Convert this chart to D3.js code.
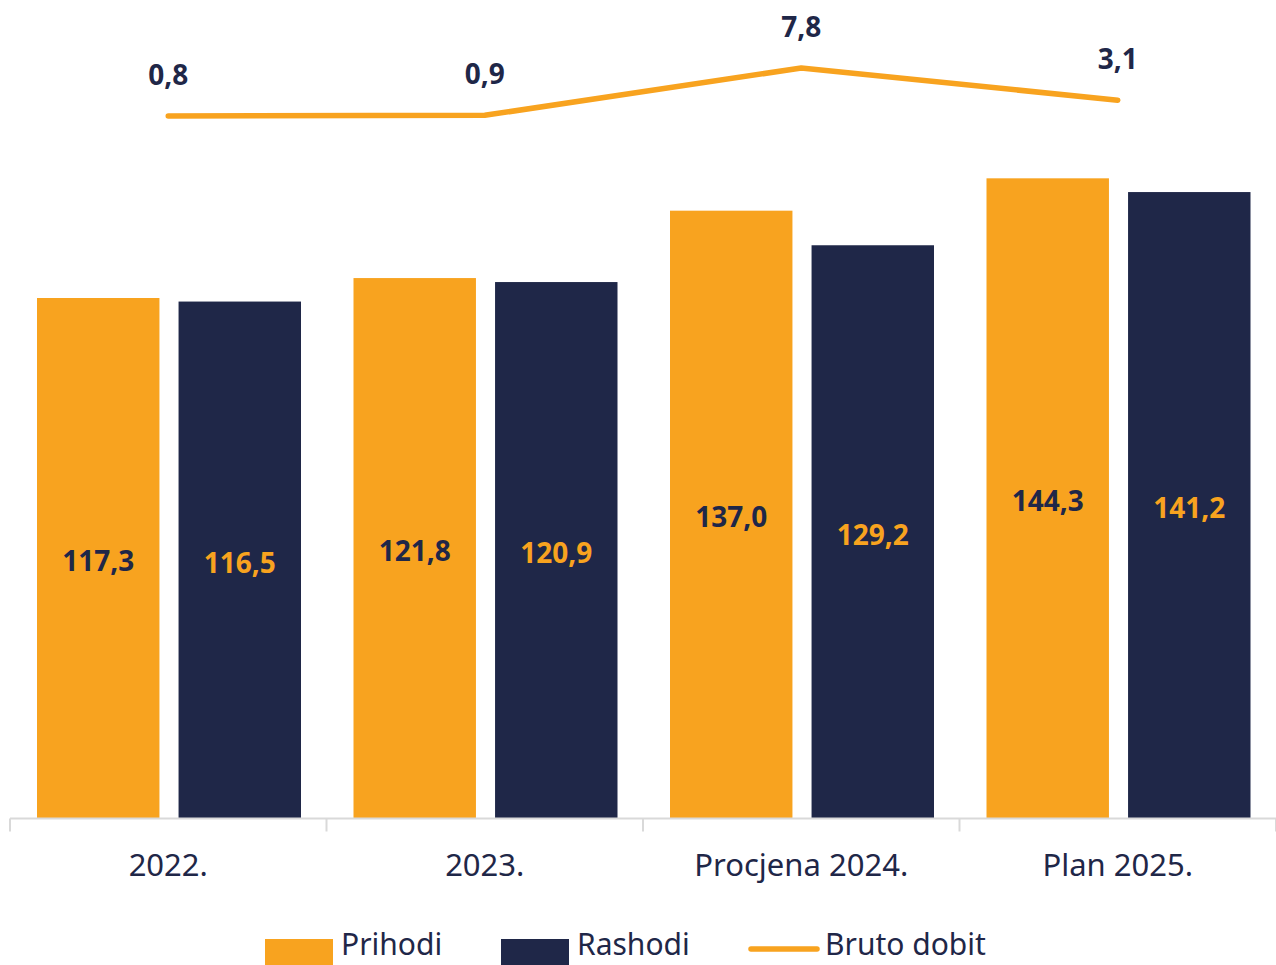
<!DOCTYPE html>
<html>
<head>
<meta charset="utf-8">
<script src="https://cdn.jsdelivr.net/npm/d3@7"></script>
<style>
  body { margin: 0; background: #fff; }
  #chart { width: 1276px; height: 965px; }
  text { font-family: "Noto Sans", sans-serif; }
</style>
</head>
<body>
<div id="chart"></div>
<script>
const categories = ['2022.', '2023.', 'Procjena 2024.', 'Plan 2025.'];
const seriesNames = ['Prihodi', 'Rashodi'];
const prihodi = [117.3, 121.8, 137.0, 144.3];
const rashodi = [116.5, 120.9, 129.2, 141.2];
const brutoDobit = [0.8, 0.9, 7.8, 3.1];

const orange = '#F8A31F';
const navy = '#1F2748';

const fmt = v => d3.format('.1f')(v).replace('.', ',');

function createChart() {
    const container = d3.select('#chart');
    container.html('');

    const width = 1276, height = 965;
    const svg = container.append('svg')
        .attr('width', width)
        .attr('height', height);

    const baseline = 818;

    const x0 = d3.scaleBand()
        .domain(categories)
        .range([10, 1276])
        .padding(0);

    const x1 = d3.scaleBand()
        .domain(seriesNames)
        .range([27, 291])
        .paddingInner(0.135)
        .paddingOuter(0);

    const y = d3.scaleLinear()
        .domain([0, 160])
        .range([baseline, baseline - 160 * 4.433]);

    const y2 = d3.scaleLinear()
        .domain([0, 8])
        .range([121.5, 121.5 - 8 * 6.857]);

    const data = categories.map((c, i) => ({
        cat: c,
        values: [
            {key: 'Prihodi', value: prihodi[i]},
            {key: 'Rashodi', value: rashodi[i]}
        ]
    }));

    const groups = svg.selectAll('.group')
        .data(data)
        .enter()
        .append('g')
        .attr('class', 'group')
        .attr('transform', d => `translate(${x0(d.cat)},0)`);

    groups.selectAll('rect')
        .data(d => d.values)
        .enter()
        .append('rect')
        .attr('x', d => x1(d.key))
        .attr('y', d => y(d.value))
        .attr('width', x1.bandwidth())
        .attr('height', d => y(0) - y(d.value))
        .attr('fill', d => d.key === 'Prihodi' ? orange : navy);

    groups.selectAll('.bar-label')
        .data(d => d.values)
        .enter()
        .append('text')
        .attr('class', 'bar-label')
        .attr('x', d => x1(d.key) + x1.bandwidth() / 2)
        .attr('y', d => (y(d.value) + y(0)) / 2)
        .attr('dy', '0.47em')
        .attr('text-anchor', 'middle')
        .attr('font-size', 28)
        .attr('font-weight', 'bold')
        .attr('fill', d => d.key === 'Prihodi' ? navy : orange)
        .text(d => fmt(d.value));

    // x axis
    const axis = svg.append('g')
        .attr('transform', `translate(0,${baseline + 0.5})`)
        .call(d3.axisBottom(x0).tickSize(0).tickPadding(0));
    axis.select('.domain').remove();
    axis.selectAll('.tick text').remove();

    axis.append('line')
        .attr('x1', 10).attr('x2', 1276)
        .attr('y1', 0).attr('y2', 0)
        .attr('stroke', '#d9d9d9')
        .attr('stroke-width', 2);

    const bounds = categories.map(c => x0(c)).concat([x0.range()[1]]);
    axis.selectAll('.sep')
        .data(bounds)
        .enter()
        .append('line')
        .attr('x1', d => d).attr('x2', d => d)
        .attr('y1', 0).attr('y2', 13)
        .attr('stroke', '#d9d9d9')
        .attr('stroke-width', 2);

    svg.selectAll('.cat-label')
        .data(categories)
        .enter()
        .append('text')
        .attr('class', 'cat-label')
        .attr('x', d => x0(d) + x0.bandwidth() / 2)
        .attr('y', 876)
        .attr('text-anchor', 'middle')
        .attr('font-size', 31)
        .attr('fill', navy)
        .text(d => d);

    // line
    const line = d3.line()
        .x((d, i) => x0(categories[i]) + x0.bandwidth() / 2)
        .y(d => y2(d));

    svg.append('path')
        .datum(brutoDobit)
        .attr('d', line)
        .attr('fill', 'none')
        .attr('stroke', orange)
        .attr('stroke-width', 5.5)
        .attr('stroke-linecap', 'round')
        .attr('stroke-linejoin', 'round');

    svg.selectAll('.line-label')
        .data(brutoDobit)
        .enter()
        .append('text')
        .attr('class', 'line-label')
        .attr('x', (d, i) => x0(categories[i]) + x0.bandwidth() / 2)
        .attr('y', d => y2(d) - 31)
        .attr('text-anchor', 'middle')
        .attr('font-size', 28)
        .attr('font-weight', 'bold')
        .attr('fill', navy)
        .text(d => fmt(d));

    // legend
    const legend = svg.append('g').attr('class', 'legend');
    const items = [
        {label: 'Prihodi', type: 'rect', color: orange, x: 265},
        {label: 'Rashodi', type: 'rect', color: navy, x: 501},
        {label: 'Bruto dobit', type: 'line', color: orange, x: 749}
    ];
    items.forEach(it => {
        if (it.type === 'rect') {
            legend.append('rect')
                .attr('x', it.x).attr('y', 939)
                .attr('width', 68).attr('height', 26)
                .attr('fill', it.color);
        } else {
            legend.append('line')
                .attr('x1', it.x + 2).attr('x2', it.x + 68)
                .attr('y1', 949).attr('y2', 949)
                .attr('stroke', it.color)
                .attr('stroke-width', 5.5)
                .attr('stroke-linecap', 'round');
        }
        legend.append('text')
            .attr('x', it.x + 76)
            .attr('y', 955)
            .attr('font-size', 30)
            .attr('fill', navy)
            .text(it.label);
    });
}

createChart();
</script>
</body>
</html>
